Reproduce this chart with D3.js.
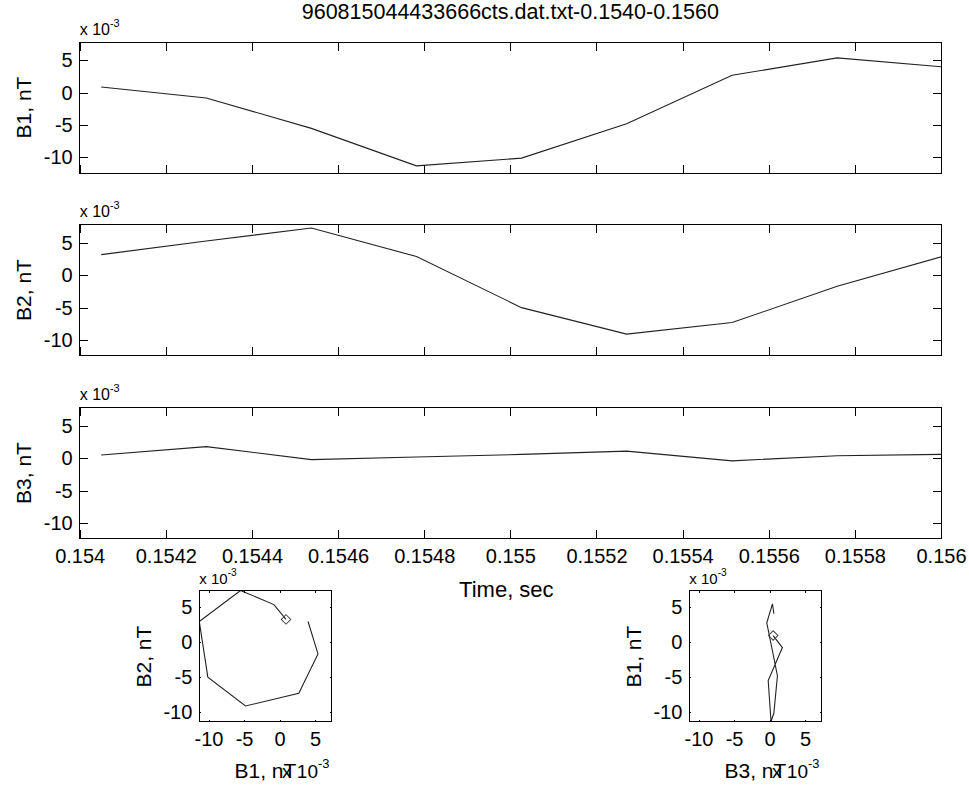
<!DOCTYPE html>
<html>
<head>
<meta charset="utf-8">
<script src="https://cdn.jsdelivr.net/npm/d3@7"></script>
<style>
	body { margin: 0; background: #fff; }
	svg { font-family: "Liberation Sans", Arial, Helvetica, sans-serif; }
	.tick line { stroke: #000; }
	.domain { display: none; }
</style>
</head>
<body>
<svg id="chart" width="969" height="786"></svg>
<script>
var fileTitle = '960815044433666cts.dat.txt-0.1540-0.1560';

// sample times (s) and field components (x 10^-3 nT)
var timeSec = [0.15405, 0.154294, 0.154538, 0.154782, 0.155026, 0.15527, 0.155515, 0.155759, 0.156003];
var b1 = [0.9, -0.8, -5.5, -11.3, -10.1, -4.8, 2.7, 5.4, 4.0];
var b2 = [3.2, 5.3, 7.3, 2.9, -5.0, -9.1, -7.3, -1.7, 2.9];
var b3 = [0.5, 1.8, -0.2, 0.2, 0.6, 1.1, -0.4, 0.4, 0.6];

var timeTicks = [0.154, 0.1542, 0.1544, 0.1546, 0.1548, 0.155, 0.1552, 0.1554, 0.1556, 0.1558, 0.156];
var timeTickLabels = ['0.154', '0.1542', '0.1544', '0.1546', '0.1548', '0.155', '0.1552', '0.1554', '0.1556', '0.1558', '0.156'];
var fieldTicks = [-10, -5, 0, 5];
var fieldTickLabels = ['-10', '-5', '0', '5'];

var timeDomain = [0.154, 0.156];
var fieldDomain = [-12.4, 7.85];
var hodoDomain = [-11.3, 7.3];

var svg = d3.select('#chart');
var clipId = 0;

function drawBox(g, w, h) {
	g.append('rect')
		.attr('width', w).attr('height', h)
		.attr('fill', 'none').attr('stroke', '#000').attr('stroke-width', 1)
		.attr('shape-rendering', 'crispEdges');
}

function drawTicks(g, x, y, w, h, xt, xl, tickLen, fs, showXLabels) {
	var bottom = d3.axisBottom(x).tickValues(xt).tickSize(-tickLen).tickPadding(10)
		.tickFormat((d, i) => showXLabels ? xl[i] : '');
	var top = d3.axisTop(x).tickValues(xt).tickSize(-tickLen).tickFormat('');
	var left = d3.axisLeft(y).tickValues(fieldTicks).tickSize(-tickLen).tickPadding(7)
		.tickFormat((d, i) => fieldTickLabels[i]);
	var right = d3.axisRight(y).tickValues(fieldTicks).tickSize(-tickLen).tickFormat('');

	g.append('g').attr('transform', 'translate(0,' + h + ')').call(bottom);
	g.append('g').call(top);
	g.append('g').call(left);
	g.append('g').attr('transform', 'translate(' + w + ',0)').call(right);
	g.selectAll('.tick text').attr('font-size', fs).attr('fill', '#000').attr('font-family', null);
	g.selectAll('.tick line').attr('shape-rendering', 'crispEdges');
}

function exponent(g, xPos, yPos, anchor, fs) {
	var t = g.append('text').attr('x', xPos).attr('y', yPos)
		.attr('font-size', fs).attr('text-anchor', anchor);
	t.append('tspan').text('x 10');
	t.append('tspan').attr('font-size', fs * 0.68).attr('dy', -fs * 0.5).text('-3');
}

function lineSeries(g, xs, ys, x, y, w, h) {
	clipId++;
	g.append('clipPath').attr('id', 'clip' + clipId)
		.append('rect').attr('width', w).attr('height', h);
	var pts = xs.map((d, i) => [d, ys[i]]);
	g.append('path')
		.datum(pts)
		.attr('clip-path', 'url(#clip' + clipId + ')')
		.attr('fill', 'none')
		.attr('stroke', '#222')
		.attr('stroke-width', 1.1)
		.attr('d', d3.line().x(d => x(d[0])).y(d => y(d[1])));
	return pts;
}

// three time series panels
var pLeft = 79.7, pWidth = 861.3, pHeight = 131;
var panelTops = [42, 224.5, 407.5];
var panelSeries = [b1, b2, b3];
var panelLabels = ['B1, nT', 'B2, nT', 'B3, nT'];

panelSeries.forEach((series, k) => {
	var g = svg.append('g').attr('transform', 'translate(' + pLeft + ',' + panelTops[k] + ')');
	var x = d3.scaleLinear().domain(timeDomain).range([0, pWidth]);
	var y = d3.scaleLinear().domain(fieldDomain).range([pHeight, 0]);

	lineSeries(g, timeSec, series, x, y, pWidth, pHeight);
	drawTicks(g, x, y, pWidth, pHeight, timeTicks, timeTickLabels, 8.5, 20, k === 2);
	drawBox(g, pWidth, pHeight);
	exponent(g, 0, -7.5, 'start', 16);

	g.append('text')
		.attr('transform', 'translate(-49,' + (pHeight / 2) + ') rotate(-90)')
		.attr('text-anchor', 'middle').attr('font-size', 21)
		.text(panelLabels[k]);
});

svg.append('text')
	.attr('x', pLeft + pWidth / 2).attr('y', 19)
	.attr('text-anchor', 'middle').attr('font-size', 21.5)
	.text(fileTitle);

svg.append('text')
	.attr('x', pLeft + pWidth / 2 - 4).attr('y', 597)
	.attr('text-anchor', 'middle').attr('font-size', 22)
	.text('Time, sec');

// hodograms
var hodoSize = 132.2, hodoTop = 590.5;
var hodos = [
	{ left: 199.3, xs: b1, ys: b2, xLabel: 'B1, nT', yLabel: 'B2, nT' },
	{ left: 689.3, xs: b3, ys: b1, xLabel: 'B3, nT', yLabel: 'B1, nT' }
];

hodos.forEach(hd => {
	var g = svg.append('g').attr('transform', 'translate(' + hd.left + ',' + hodoTop + ')');
	var x = d3.scaleLinear().domain(hodoDomain).range([0, hodoSize]);
	var y = d3.scaleLinear().domain(hodoDomain).range([hodoSize - 1.2, 0]);

	var pts = lineSeries(g, hd.xs, hd.ys, x, y, hodoSize, hodoSize - 1.2);
	drawTicks(g, x, y, hodoSize, hodoSize - 1.2, fieldTicks, fieldTickLabels, 2, 20, true);
	drawBox(g, hodoSize, hodoSize - 1.2);

	// start marker
	g.append('path')
		.attr('transform', 'translate(' + x(pts[0][0]) + ',' + y(pts[0][1]) + ') rotate(45)')
		.attr('d', d3.symbol().type(d3.symbolSquare).size(45))
		.attr('fill', 'none').attr('stroke', '#444').attr('stroke-width', 1);

	exponent(g, 0, -7, 'start', 15);

	g.append('text')
		.attr('x', hodoSize / 2).attr('y', 187.5)
		.attr('text-anchor', 'middle').attr('font-size', 21)
		.text(hd.xLabel);
	exponent(g, hodoSize - 2, 187, 'end', 19);

	g.append('text')
		.attr('transform', 'translate(-48,' + (hodoSize / 2) + ') rotate(-90)')
		.attr('text-anchor', 'middle').attr('font-size', 21)
		.text(hd.yLabel);
});
</script>
</body>
</html>
